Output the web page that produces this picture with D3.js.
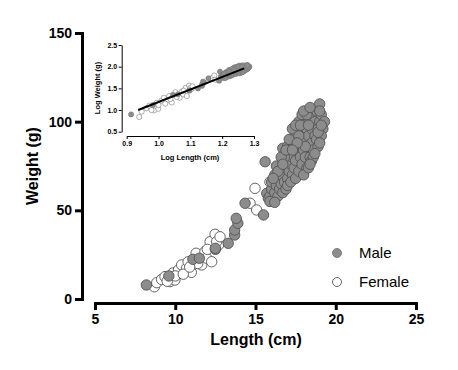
<!DOCTYPE html>
<html><head><meta charset="utf-8">
<script src="https://cdn.jsdelivr.net/npm/d3@7"></script>
<style>body{margin:0;background:#fff}svg{display:block}text{font-family:"Liberation Sans",Arial,sans-serif}</style>
</head><body>
<script>
// ---- data ----
const maleLength = [8.2,9.6,11.1,11.5,12.5,12.5,13.3,13.7,13.7,13.9,13.8,14.35,15.5,15.7,15.8,15.6,16.7,
15.9,16.0,16.1,16.2,16.0,16.3,16.4,16.2,16.5,16.4,16.6,16.5,16.3,16.7,16.6,
16.8,16.9,16.8,17.0,16.9,17.1,17.0,17.2,17.1,17.3,17.2,17.4,17.3,17.0,17.4,17.2,16.8,17.5,
17.5,17.6,17.5,17.7,17.8,17.6,17.8,17.9,18.0,17.9,18.0,18.1,18.1,17.7,18.2,18.2,17.9,18.0,
18.3,18.3,18.4,18.4,18.5,18.5,18.6,18.6,18.7,18.7,18.8,18.8,18.9,18.9,19.0,19.0,19.1,19.2,19.1,19.3,18.3,18.5,18.2,19.0,
17.3,17.5,18.6,18.7,18.9,19.1,16.6,16.9,17.1,18.4,18.0,18.4,19.0,16.4,16.1,17.7,18.1,17.6,17.8,16.7,17.3,18.3,15.9,16.2];
const maleWeight = [7.9,13,22.4,23,28,28.6,31.4,36.1,38.9,42.7,45.5,54,47.4,59.6,56.8,77.4,85,
58,62,56,60,66,64,58,70,62,68,65,72,75,60,70,
66,62,74,68,78,72,64,76,82,70,66,74,80,86,88,90,80,68,
78,84,92,72,80,96,88,76,84,94,100,90,80,100,74,96,104,70,
86,92,100,80,88,96,104,84,92,100,90,106,96,86,100,110,104,96,92,100,74,78,104,88,
96,98,80,82,94,98,80,84,90,76,106,108,106,72,68,92,86,88,98,76,84,98,55,54.5];
const femaleLength = [8.7,8.85,9.15,9.36,9.67,9.86,9.98,10.2,10.4,10.7,10.8,11.0,11.3,11.65,11.85,11.96,12.27,12.7,12.17,12.48,12.58,12.79,10.0,10.5,9.5,14.66,14.97,15.07,15.9,16.53,12.0,11.4,10.9];
const femaleWeight = [6.9,9.2,11,12.6,9.8,14.7,10.7,16.4,19.2,17.3,21,15,25.8,19.2,26.7,23,21,30.5,32.3,36.5,32.3,35.1,13,14,10,54,62.4,50.2,66,72.8,28,20,18];
const fitLogLength = [0.936, 1.269];
const fitLogWeight = [1.0, 1.96];
const xTicks = [5,10,15,20,25];
const yTicks = [0,50,100,150];
const insetXTicks = [0.9,1.0,1.1,1.2,1.3];
const insetYTicks = [0.5,1.0,1.5,2.0,2.5];
const seriesNames = ["Male","Female"];

const male = maleLength.map((l,i)=>({l, w:maleWeight[i]}));
const female = femaleLength.map((l,i)=>({l, w:femaleWeight[i]}));

const W = 458, H = 370;
const svg = d3.select("body").append("svg").attr("width",W).attr("height",H);

const greyFill = "#8c8c8c", strokeC = "#555";

// ---- main chart ----
const x = d3.scaleLinear().domain([5,25]).range([95,416]);
const y = d3.scaleLinear().domain([0,150]).range([299,33]);

const xAx = svg.append("g").attr("transform","translate(0,303)")
  .call(d3.axisBottom(x).tickValues(xTicks).tickSize(7).tickSizeOuter(0).tickPadding(4));
const yAx = svg.append("g").attr("transform","translate(82,0)")
  .call(d3.axisLeft(y).tickValues(yTicks).tickSize(7).tickSizeOuter(0).tickPadding(3));
[xAx,yAx].forEach(g=>{
  g.select(".domain").attr("stroke","#000").attr("stroke-width",3);
  g.selectAll(".tick line").attr("stroke","#000").attr("stroke-width",3);
  g.selectAll(".tick text").attr("fill","#000").attr("font-size",14).attr("font-weight","bold")
   .attr("font-family","'Liberation Sans',Arial,sans-serif");
});
svg.selectAll(".domain").attr("stroke-linecap","square");

svg.append("text").attr("x",256).attr("y",345).attr("text-anchor","middle")
  .attr("font-size",16).attr("font-weight","bold").text("Length (cm)");
svg.append("text").attr("transform","translate(38,166) rotate(-90)").attr("text-anchor","middle")
  .attr("font-size",16).attr("font-weight","bold").text("Weight (g)");

const pts = svg.append("g");
pts.selectAll(".f").data(female).join("circle")
  .attr("cx",d=>x(d.l)).attr("cy",d=>y(d.w)).attr("r",5.2)
  .attr("fill","#fff").attr("stroke",strokeC).attr("stroke-width",0.9);
pts.selectAll(".m").data(male).join("circle")
  .attr("cx",d=>x(d.l)).attr("cy",d=>y(d.w)).attr("r",5.2)
  .attr("fill",greyFill).attr("stroke",strokeC).attr("stroke-width",0.9);

// legend
const leg = svg.append("g");
seriesNames.forEach((n,i)=>{
  leg.append("circle").attr("cx",337).attr("cy",253+i*29).attr("r",4.5)
    .attr("fill",i===0?greyFill:"#fff").attr("stroke",i===0?"#777":strokeC).attr("stroke-width",0.9);
  leg.append("text").attr("x",359).attr("y",258+i*29).attr("font-size",15).attr("fill","#000").text(n);
});

// ---- inset ----
const ix = d3.scaleLinear().domain([0.9,1.3]).range([126.7,254]);
const iy = d3.scaleLinear().domain([0.5,2.5]).range([131.7,45]);
const ixAx = svg.append("g").attr("transform","translate(0,136)")
  .call(d3.axisBottom(ix).tickValues(insetXTicks).tickFormat(d3.format(".1f")).tickSize(3).tickSizeOuter(0).tickPadding(2));
const iyAx = svg.append("g").attr("transform","translate(121.7,0)")
  .call(d3.axisLeft(iy).tickValues(insetYTicks).tickFormat(d3.format(".1f")).tickSize(3).tickSizeOuter(0).tickPadding(1.5));
[ixAx,iyAx].forEach(g=>{
  g.select(".domain").attr("stroke","#000").attr("stroke-width",1);
  g.selectAll(".tick line").attr("stroke","#000").attr("stroke-width",1);
  g.selectAll(".tick text").attr("fill","#000").attr("font-size",7).attr("font-weight","bold")
   .attr("font-family","'Liberation Sans',Arial,sans-serif");
});
svg.append("text").attr("x",190).attr("y",160).attr("text-anchor","middle")
  .attr("font-size",7.5).attr("font-weight","bold").text("Log Length (cm)");
svg.append("text").attr("transform","translate(100,88) rotate(-90)").attr("text-anchor","middle")
  .attr("font-size",7.5).attr("font-weight","bold").text("Log Weight (g)");

const ip = svg.append("g");
ip.selectAll(".f").data(female).join("circle")
  .attr("cx",d=>ix(Math.log10(d.l))).attr("cy",d=>iy(Math.log10(d.w))).attr("r",2.6)
  .attr("fill","#fff").attr("stroke","#777").attr("stroke-width",0.6);
ip.selectAll(".m").data(male).join("circle")
  .attr("cx",d=>ix(Math.log10(d.l))).attr("cy",d=>iy(Math.log10(d.w))).attr("r",2.6)
  .attr("fill",greyFill).attr("stroke","#777").attr("stroke-width",0.5);
ip.append("line")
  .attr("x1",ix(fitLogLength[0])).attr("y1",iy(fitLogWeight[0]))
  .attr("x2",ix(fitLogLength[1])).attr("y2",iy(fitLogWeight[1]))
  .attr("stroke","#000").attr("stroke-width",2);
</script>
</body></html>
